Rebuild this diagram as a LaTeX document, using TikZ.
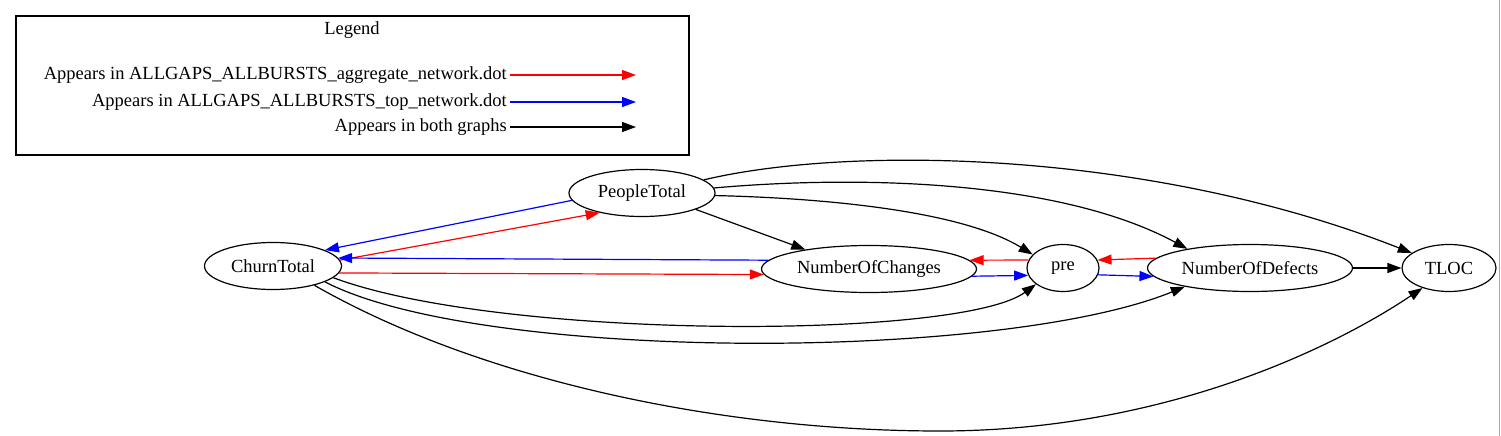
\documentclass[tikz,border=0pt]{standalone}
\usepackage{fontspec}
\setmainfont{Liberation Serif}
\usetikzlibrary{shapes.geometric,arrows.meta,positioning}
\tikzset{
  var/.style={draw, ellipse, line width=1.2pt, minimum height=47pt, inner sep=0pt},
  edge/.style={line width=1.2pt, -{Triangle[length=14pt,width=10pt]}},
}

\begin{document}
\begin{tikzpicture}[x=1pt,y=-1pt,font=\fontsize{18.5}{22}\selectfont]
\useasboundingbox (0,0) rectangle (1501,436);

% Draw legend box.
\draw[line width=1.2pt] (16,16) rectangle (689,155);
\node (legend) at (352,30) {Legend};
\foreach \y/\c/\t/\n in {75/red/{Appears in ALLGAPS\_ALLBURSTS\_aggregate\_network.dot}/agg,
  102/blue/{Appears in ALLGAPS\_ALLBURSTS\_top\_network.dot}/top,
  127/black/{Appears in both graphs}/both}
{
\node[anchor=east, inner sep=3pt] (l\n) at (510,\y) {\t};
\coordinate (e\n) at (636,\y);
\draw[edge, \c] (l\n) -- (e\n);
}

% Draw variables.
\node[var, minimum width=146pt] (people) at (642,193) {PeopleTotal};
\node[var, minimum width=137pt] (churn) at (273,266) {ChurnTotal};
\node[var, minimum width=215pt] (changes) at (869,269) {NumberOfChanges};
\node[var, minimum width=72pt] (pre) at (1063,268) {pre};
\node[var, minimum width=205pt] (defects) at (1250,268) {NumberOfDefects};
\node[var, minimum width=94pt] (tloc) at (1449,268) {TLOC};

% Red edges.
\draw[edge, red] (churn.5) -- (people.205);
\draw[edge, red] (churn.-6) -- (changes.183);
\draw[edge, red] (pre.167) -- (changes.5);
\draw[edge, red] (defects.174) -- (pre.13);

% Blue edges.
\draw[edge, blue] (people.186) -- (churn.17);
\draw[edge, blue] (changes.175) -- (churn.7);
\draw[edge, blue] (changes.-4) -- (pre.192);
\draw[edge, blue] (pre.-11) -- (defects.185);

% Black edges.
\draw[edge] (people.-17) -- (changes.163);
\draw[edge] (people.-2) .. controls (820,198) and (960,210) .. (pre.156);
\draw[edge] (people.4) .. controls (860,175) and (1060,180) .. (defects.163);
\draw[edge] (people.12) .. controls (850,145) and (1150,150) .. (tloc.158);
\draw[edge] (churn.-11) .. controls (500,340) and (960,340) .. (pre.211);
\draw[edge] (churn.-17) .. controls (480,362) and (1000,362) .. (defects.196);
\draw[edge] (churn.-25) .. controls (480,380) and (720,431) .. (940,431)
  .. controls (1160,431) and (1330,350) .. (tloc.217);
\draw[edge] (defects) -- (tloc);

% Right frame line.
\draw[gray!70, line width=1pt] (1499,0) -- (1499,436);
\end{tikzpicture}
\end{document}
